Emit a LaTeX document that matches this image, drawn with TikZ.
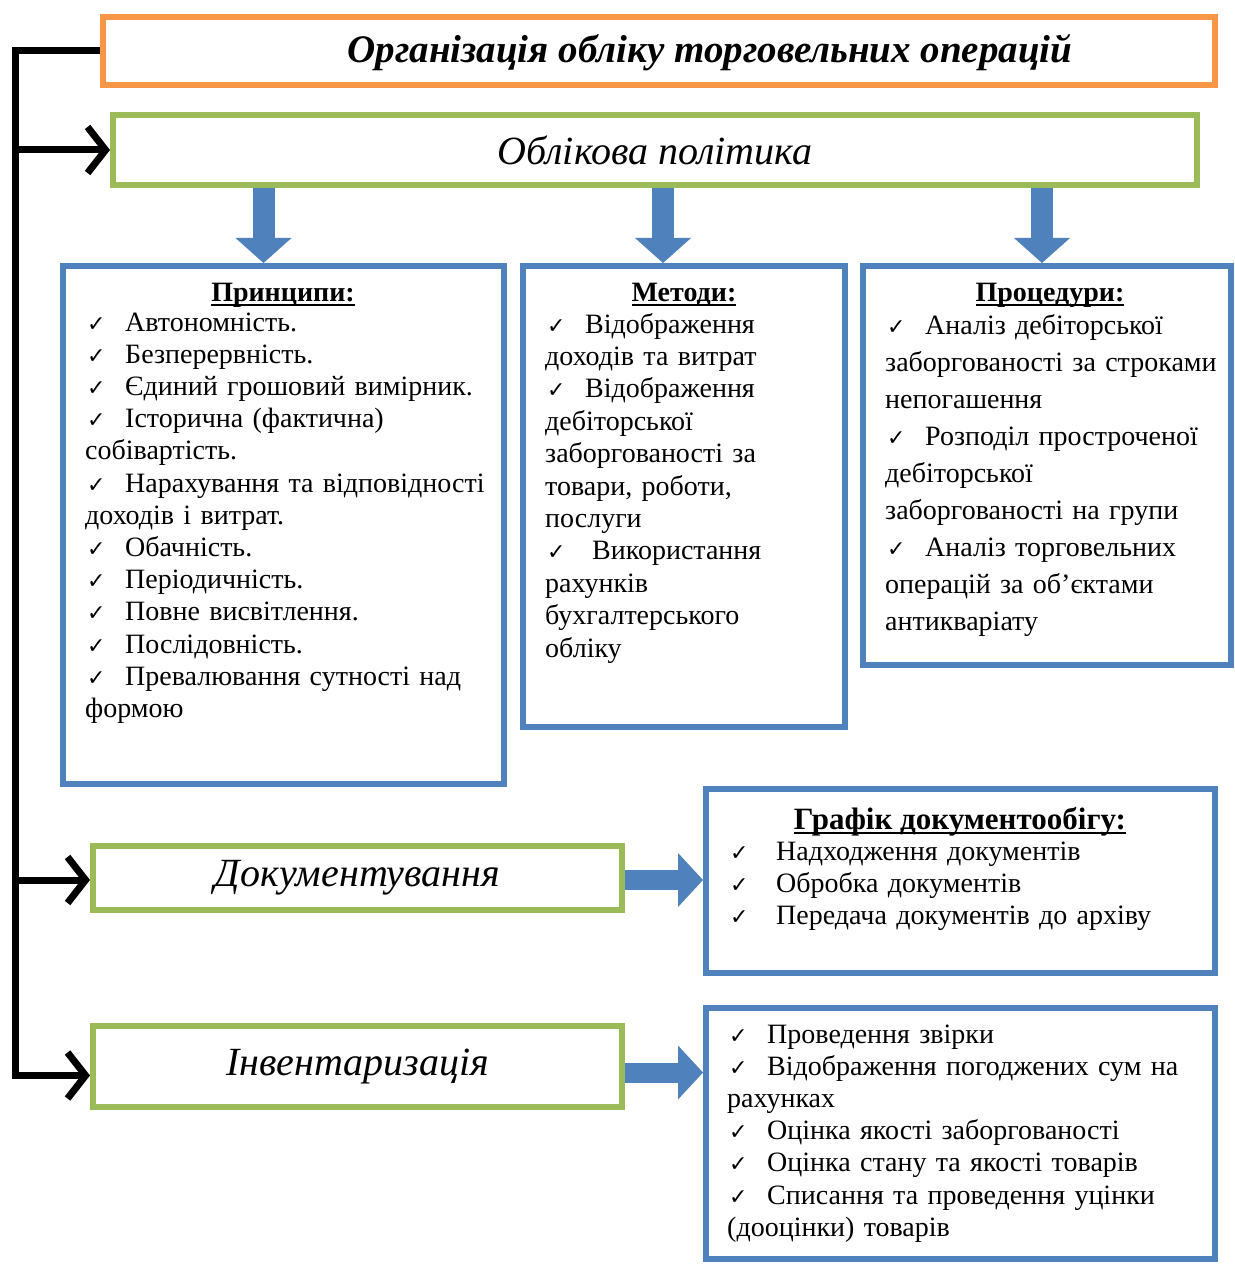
\documentclass[tikz,border=0pt]{standalone}
\usepackage{fontspec}
\setmainfont{Liberation Serif}
\newfontfamily\symf{DejaVu Sans}
\usetikzlibrary{arrows.meta}
\definecolor{orangeB}{HTML}{F79646}
\definecolor{greenB}{HTML}{9BBB59}
\definecolor{blueB}{HTML}{4F81BD}
\newcommand\ck{\makebox[40pt][l]{\hspace{2pt}{\symf\fontsize{22}{22}\selectfont ✓}}}
\newcommand\ckw{\makebox[48pt][l]{\hspace{2pt}{\symf\fontsize{22}{22}\selectfont ✓}}}
\newsavebox\hulbox
\newcommand\hul[1]{\sbox\hulbox{#1}\rlap{\rule[-4.5pt]{\wd\hulbox}{1.6pt}}\usebox\hulbox}
\begin{document}
\begin{tikzpicture}[x=1pt,y=-1pt,
  box/.style={draw, rectangle, line width=6pt, inner sep=0pt, fill=white},
  obox/.style={box, draw=orangeB},
  gbox/.style={box, draw=greenB},
  bbox/.style={box, draw=blueB},
  blk/.style={line width=7pt, draw=black, line join=miter},
  blkarr/.style={blk, -{Straight Barb[length=18pt,width=46pt]}},
  barr/.style={line width=22pt, draw=blueB, -{Triangle[length=25pt,width=56pt,line width=0pt]}},
  barrh/.style={line width=20pt, draw=blueB, -{Triangle[length=25pt,width=54pt,line width=0pt]}},
  lst/.style={anchor=base west, inner sep=0pt, align=left, text width=600pt, font=\fontsize{28}{32.2}\selectfont},
  hd/.style={anchor=base, inner sep=0pt, font=\fontsize{28}{32}\selectfont\bfseries},
  big/.style={font=\fontsize{40}{42}\selectfont\itshape}]
\useasboundingbox (0,0) rectangle (1234,1265);
\fill[white] (0,0) rectangle (1234,1265);
\coordinate (trunk) at (15,0);

% boxes
\node[obox, minimum width=1112pt, minimum height=68pt] (title) at (659,51) {};
\node[inner sep=0pt, font=\fontsize{39}{42}\selectfont\bfseries\itshape] (titletext) at (710,53) {Організація обліку торговельних операцій};
\node[gbox, big, minimum width=1084pt, minimum height=70pt] (policy) at (655,150) {Облікова політика};
\node[bbox, minimum width=441pt, minimum height=518pt] (prin) at (283.5,525) {};
\node[bbox, minimum width=322pt, minimum height=461pt] (meth) at (684,496.5) {};
\node[bbox, minimum width=368pt, minimum height=399pt] (proc) at (1047,465.5) {};
\node[gbox, big, minimum width=529pt, minimum height=64pt] (doc) at (357.5,878) {Документування};
\node[gbox, big, minimum width=529pt, minimum height=81pt] (inv) at (357.5,1066.5) {Інвентаризація};
\node[bbox, minimum width=509pt, minimum height=184pt] (graf) at (960.5,881) {};
\node[bbox, minimum width=509pt, minimum height=251pt] (invl) at (960.5,1133.5) {};

% black connectors
\coordinate (invpt) at ([yshift=-9pt]inv.west);
\draw[blkarr] (title.west) -| (trunk |- invpt) -- (invpt);
\draw[blkarr] (trunk |- policy.west) -- (policy.west);
\draw[blkarr] ([yshift=-2pt]trunk |- doc.west) -- ([yshift=-2pt]doc.west);

% blue arrows
\path (prin.north) ++(-20,0) coordinate (pa);
\path (meth.north) ++(-21,0) coordinate (ma);
\path (proc.north) ++(-5,0) coordinate (qa);
\draw[barr] (pa |- policy.south) -- (pa);
\draw[barr] (ma |- policy.south) -- (ma);
\draw[barr] (qa |- policy.south) -- (qa);
\coordinate (dpt) at ([yshift=-2pt]doc.east);
\draw[barrh] (dpt) -- (dpt -| graf.west);
\coordinate (ipt) at ([yshift=-6pt]inv.east);
\draw[barrh] (ipt) -- (ipt -| invl.west);

% texts
\node[hd] (h1) at (283,301) {\hul{Принципи:}};
\node[lst] (l1) at (85,331) {\ck Автономність.\\
\ck Безперервність.\\
\ck Єдиний грошовий вимірник.\\
\ck Історична (фактична)\\
собівартість.\\
\ck Нарахування та відповідності\\
доходів і витрат.\\
\ck Обачність.\\
\ck Періодичність.\\
\ck Повне висвітлення.\\
\ck Послідовність.\\
\ck Превалювання сутності над\\
формою};

\node[hd] (h2) at (684,301) {\hul{Методи:}};
\node[lst, font=\fontsize{28}{32.4}\selectfont] (l2) at (545,333) {\ck Відображення\\
доходів та витрат\\
\ck Відображення\\
дебіторської\\
заборгованості за\\
товари, роботи,\\
послуги\\
\ck\hspace{7pt}Використання\\
рахунків\\
бухгалтерського\\
обліку};

\node[hd] (h3) at (1050,301) {\hul{Процедури:}};
\node[lst, font=\fontsize{28}{37}\selectfont] (l3) at (885,334) {\ck Аналіз дебіторської\\
заборгованості за строками\\
непогашення\\
\ck Розподіл простроченої\\
дебіторської\\
заборгованості на групи\\
\ck Аналіз торговельних\\
операцій за об’єктами\\
антикваріату};

\node[hd, font=\fontsize{31}{34}\selectfont\bfseries] (h4) at (960,829) {\hul{Графік документообігу:}};
\node[lst] (l4) at (728,860) {\ckw Надходження документів\\
\ckw Обробка документів\\
\ckw Передача документів до архіву};

\node[lst] (l5) at (727,1043) {\ck Проведення звірки\\
\ck Відображення погоджених сум на\\
рахунках\\
\ck Оцінка якості заборгованості\\
\ck Оцінка стану та якості товарів\\
\ck Списання та проведення уцінки\\
(дооцінки) товарів};
\end{tikzpicture}
\end{document}
